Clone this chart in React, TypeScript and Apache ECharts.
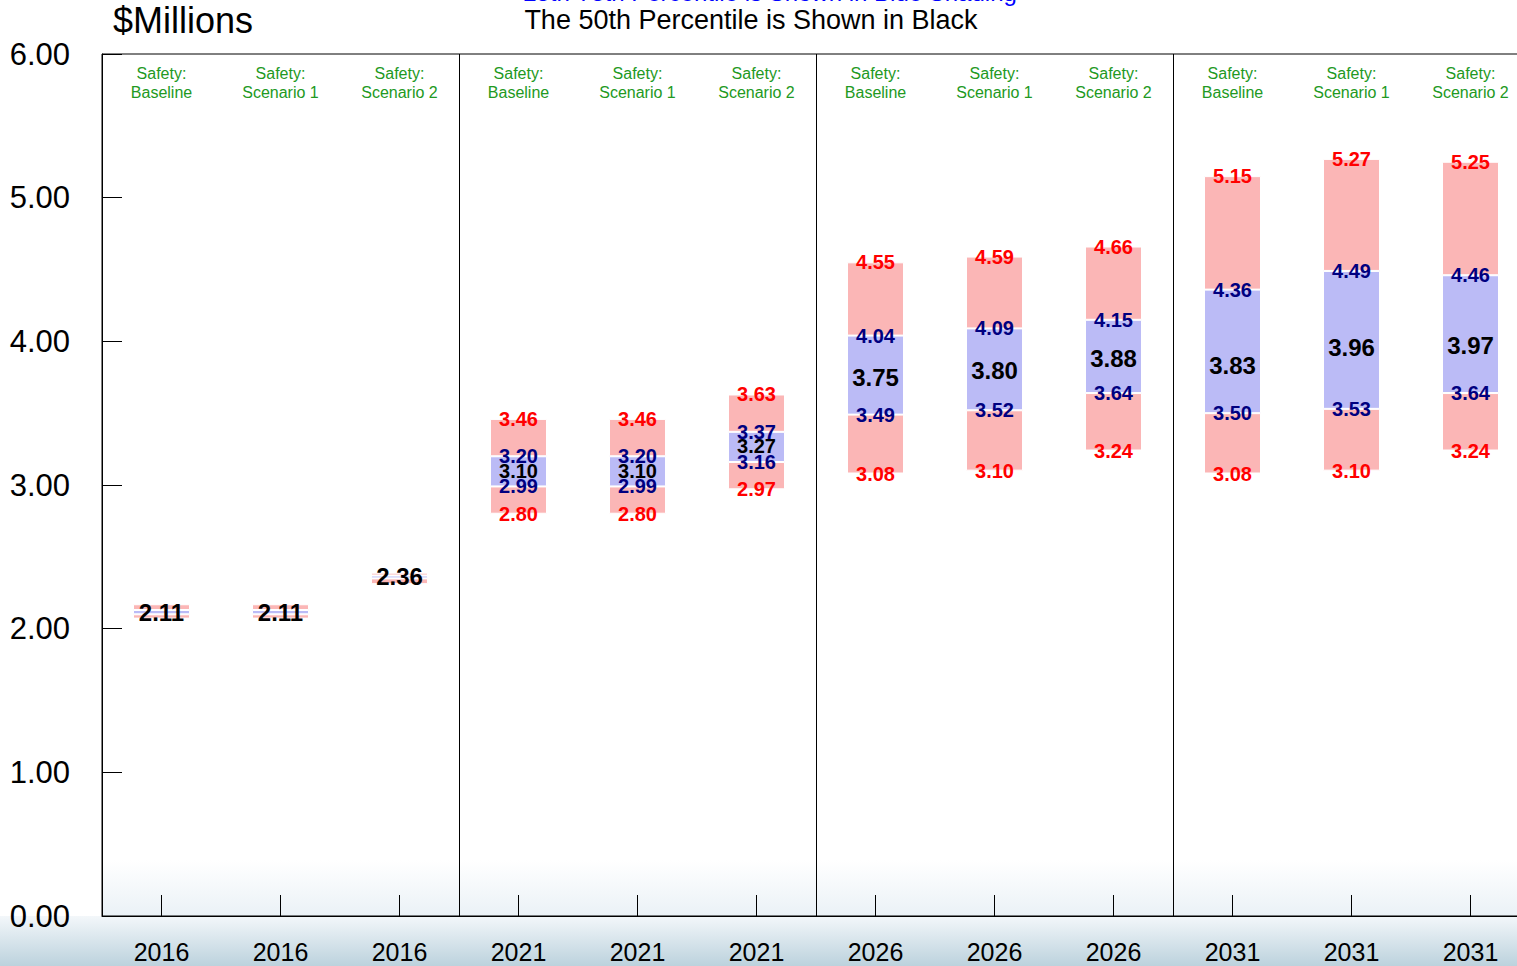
import React, { useEffect, useRef } from "react";
import * as echarts from "echarts";

const years = ["2016", "2016", "2016", "2021", "2021", "2021", "2026", "2026", "2026", "2031", "2031", "2031"];
const scenarios = ["Baseline", "Scenario 1", "Scenario 2", "Baseline", "Scenario 1", "Scenario 2", "Baseline", "Scenario 1", "Scenario 2", "Baseline", "Scenario 1", "Scenario 2"];
const p5 = [2.07, 2.07, 2.31, 2.8, 2.8, 2.97, 3.08, 3.1, 3.24, 3.08, 3.1, 3.24];
const p25 = [2.1, 2.1, 2.35, 2.99, 2.99, 3.16, 3.49, 3.52, 3.64, 3.5, 3.53, 3.64];
const p50 = [2.11, 2.11, 2.36, 3.1, 3.1, 3.27, 3.75, 3.8, 3.88, 3.83, 3.96, 3.97];
const p75 = [2.13, 2.13, 2.37, 3.2, 3.2, 3.37, 4.04, 4.09, 4.15, 4.36, 4.49, 4.46];
const p95 = [2.17, 2.17, 2.39, 3.46, 3.46, 3.63, 4.55, 4.59, 4.66, 5.15, 5.27, 5.25];
const yTicks = [0, 1, 2, 3, 4, 5, 6];

const categories = years.map((y, i) => `${y}|${scenarios[i]}`);
const FONT = "Arial, 'Liberation Sans', sans-serif";
const RED_FILL = "#fbb6b6";
const BLUE_FILL = "#bbbbf6";
const W = 1540;

const round = (v: number) => Math.round(v * 1000) / 1000;
const showRange = p95.map((v, i) => v - p5[i] > 0.3);

function labelSeries(name: string, values: number[], color: string, onlyRange: boolean, sizeFn: (i: number) => number) {
  const data: number[][] = [];
  values.forEach((v, i) => {
    if (!onlyRange || showRange[i]) data.push([i, v]);
  });
  return {
    name,
    type: "custom",
    xAxisIndex: 0,
    yAxisIndex: 0,
    silent: true,
    z: 5,
    clip: false,
    data,
    renderItem: (params: any, api: any) => {
      const idx = api.value(0);
      const val = api.value(1);
      const pt = api.coord([idx, val]);
      return {
        type: "text",
        x: pt[0],
        y: pt[1],
        style: {
          text: Number(val).toFixed(2),
          fill: color,
          font: `bold ${sizeFn(idx)}px ${FONT}`,
          align: "center",
          verticalAlign: "middle",
        },
      };
    },
  };
}

export default function App() {
  const ref = useRef<HTMLDivElement>(null);
  useEffect(() => {
    document.body.style.overflow = "hidden";
    document.documentElement.style.overflow = "hidden";
    if (!ref.current) return;
    const chart = echarts.init(ref.current, null, { renderer: "svg" });
    const medianSize = (i: number) => {
      const spread = p75[i] - p25[i];
      if (spread > 0.05 && spread < 0.3) return 20;
      return 24;
    };
    chart.setOption({
      animation: false,
      backgroundColor: "#ffffff",
      grid: {
        left: 102,
        top: 54,
        width: 1428,
        height: 862,
        show: true,
        borderColor: "#000",
        borderWidth: 1,
        backgroundColor: "transparent",
      },
      graphic: [
        {
          type: "rect",
          z: -5,
          silent: true,
          shape: { x: 0, y: 916, width: W, height: 50 },
          style: {
            fill: new echarts.graphic.LinearGradient(0, 0, 0, 1, [
              { offset: 0, color: "#f3f7fa" },
              { offset: 1, color: "#bcd2dd" },
            ]),
          },
        },
        {
          type: "rect",
          z: -5,
          silent: true,
          shape: { x: 102, y: 860, width: W - 102, height: 56 },
          style: {
            fill: new echarts.graphic.LinearGradient(0, 0, 0, 1, [
              { offset: 0, color: "rgba(235,242,247,0)" },
              { offset: 1, color: "#eaf1f6" },
            ]),
          },
        },
        {
          type: "text",
          x: 113,
          y: 20,
          style: { text: "$Millions", font: `36px ${FONT}`, fill: "#000", verticalAlign: "middle", align: "left" },
        },
        {
          type: "text",
          x: 751,
          y: 20,
          style: { text: "The 50th Percentile is Shown in Black", font: `27px ${FONT}`, fill: "#000", verticalAlign: "middle", align: "center" },
        },
        {
          type: "text",
          x: 770,
          y: 4,
          style: { text: "25th-75th Percentile is Shown in Blue Shading", font: `24px ${FONT}`, fill: "#0000ff", verticalAlign: "bottom", align: "center" },
        },
      ],
      xAxis: [
        {
          type: "category",
          data: categories,
          position: "bottom",
          boundaryGap: true,
          axisLine: { show: true, lineStyle: { color: "#000", width: 1 } },
          axisTick: { show: true, alignWithLabel: true, inside: true, length: 21, lineStyle: { color: "#000" } },
          axisLabel: {
            formatter: (v: string) => v.split("|")[0],
            fontFamily: FONT,
            fontSize: 25,
            color: "#000",
            margin: 23,
            interval: 0,
          },
          splitLine: { show: false },
        },
        {
          type: "category",
          data: categories,
          position: "top",
          boundaryGap: true,
          axisLine: { show: false },
          axisTick: { show: false },
          axisLabel: {
            inside: true,
            interval: 0,
            formatter: (v: string) => `Safety:\n${v.split("|")[1]}`,
            fontFamily: FONT,
            fontSize: 16,
            lineHeight: 19,
            color: "#229922",
            margin: 10,
          },
          splitLine: { show: false },
        },
        {
          type: "value",
          min: 0,
          max: 12,
          interval: 3,
          position: "bottom",
          axisLine: { show: false },
          axisTick: { show: false },
          axisLabel: { show: false },
          splitLine: { show: true, lineStyle: { color: "#000", width: 1 } },
        },
      ],
      yAxis: {
        type: "value",
        min: 0,
        max: 6,
        interval: 1,
        axisLine: { show: true, lineStyle: { color: "#000", width: 1 } },
        axisTick: { show: true, inside: true, length: 20, lineStyle: { color: "#000" } },
        axisLabel: {
          formatter: (v: number) => (yTicks.includes(v) ? v.toFixed(2) : ""),
          fontFamily: FONT,
          fontSize: 31,
          color: "#000",
          margin: 32,
        },
        splitLine: { show: false },
      },
      series: [
        {
          name: "base",
          type: "bar",
          stack: "range",
          barWidth: 57,
          silent: true,
          itemStyle: { color: "rgba(0,0,0,0)" },
          data: p5,
        },
        {
          name: "lower5-25",
          type: "bar",
          stack: "range",
          barWidth: 57,
          silent: true,
          itemStyle: { color: RED_FILL, borderColor: "#fff", borderWidth: 1 },
          data: p25.map((v, i) => round(v - p5[i])),
        },
        {
          name: "25-75",
          type: "bar",
          stack: "range",
          barWidth: 57,
          silent: true,
          itemStyle: { color: BLUE_FILL, borderColor: "#fff", borderWidth: 1 },
          data: p75.map((v, i) => round(v - p25[i])),
        },
        {
          name: "upper75-95",
          type: "bar",
          stack: "range",
          barWidth: 57,
          silent: true,
          itemStyle: { color: RED_FILL, borderColor: "#fff", borderWidth: 1 },
          data: p95.map((v, i) => round(v - p75[i])),
        },
        labelSeries("p95", p95, "#ff0000", true, () => 20),
        labelSeries("p75", p75, "#000080", true, () => 20),
        labelSeries("p25", p25, "#000080", true, () => 20),
        labelSeries("p5", p5, "#ff0000", true, () => 20),
        labelSeries("p50", p50, "#000000", false, medianSize),
      ],
    });
    return () => chart.dispose();
  }, []);
  return <div ref={ref} style={{ position: "absolute", left: 0, top: 0, width: W, height: 966 }} />;
}
